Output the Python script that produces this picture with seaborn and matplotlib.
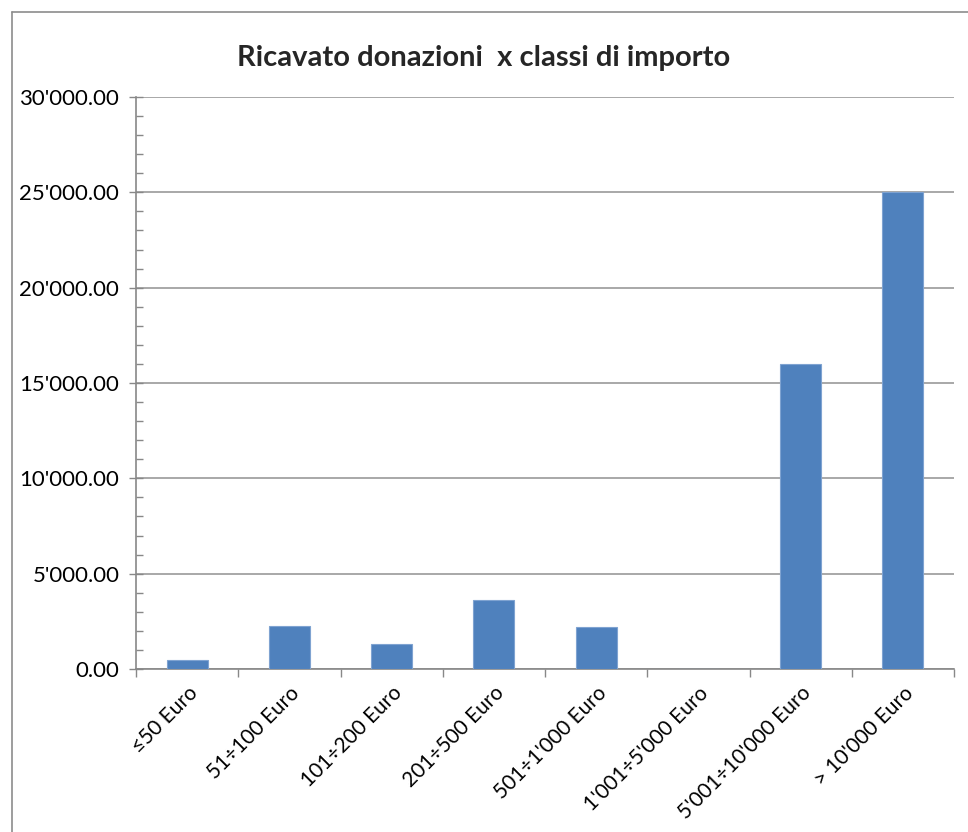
import matplotlib
matplotlib.use("Agg")
import matplotlib.pyplot as plt
import seaborn as sns
import pandas as pd
from matplotlib.ticker import FuncFormatter, MultipleLocator
from matplotlib.lines import Line2D

categories = ["≤50 Euro", "51÷100 Euro", "101÷200 Euro", "201÷500 Euro",
              "501÷1'000 Euro", "1'001÷5'000 Euro", "5'001÷10'000 Euro", "> 10'000 Euro"]
values = [460, 2240, 1330, 3600, 2180, 0, 16000, 25000]
title = "Ricavato donazioni  x classi di importo"

sns.set_theme(style="white")
plt.rcParams['font.family'] = ['Lato', 'DejaVu Sans']

df = pd.DataFrame({"cat": categories, "val": values})

fig = plt.figure(figsize=(9.68, 8.32), dpi=100)
ax = fig.add_axes([136/968, 1-669/832, (954-136)/968, (669-97)/832])

sns.barplot(data=df, x="cat", y="val", ax=ax, color="#4F81BD", width=0.4,
            saturation=1, edgecolor="#7fa3d1", linewidth=0.8, zorder=3)

ax.set_xlim(-0.5, len(categories) - 0.5)
ax.set_ylim(0, 30000)
ax.yaxis.set_major_locator(MultipleLocator(5000))
ax.yaxis.set_minor_locator(MultipleLocator(1000))
ax.yaxis.set_major_formatter(FuncFormatter(lambda v, p: f"{v:,.2f}".replace(",", "'")))
ax.grid(axis="y", which="major", color="#999999", linewidth=1.2, zorder=0)
ax.set_xlabel("")
ax.set_ylabel("")

for s in ["top", "right"]:
    ax.spines[s].set_visible(False)
for s in ["left", "bottom"]:
    ax.spines[s].set_color("#888888")
    ax.spines[s].set_linewidth(1.2)

ax.tick_params(axis="y", which="major", length=10, width=1, color="#888888",
               direction="inout", labelsize=16, pad=7, left=True, labelcolor="black")
ax.tick_params(axis="y", which="minor", length=5, width=1, color="#888888",
               direction="in", left=True)

ax.set_xticks(range(len(categories)))
ax.set_xticklabels(categories, rotation=45, ha="right", rotation_mode="anchor",
                   fontsize=15)
ax.set_xticks([i - 0.5 for i in range(len(categories) + 1)], minor=True)
ax.tick_params(axis="x", which="major", length=0, pad=10, labelcolor="black")
ax.tick_params(axis="x", which="minor", length=6, width=1, color="#888888",
               direction="out", bottom=True)

fig.text(0.5, 1 - 58/832, title, ha="center", va="center",
         fontsize=21, fontweight="bold")

# chart area border
fig.add_artist(Line2D([12/968, 1], [1-12/832, 1-12/832], color="#8c8c8c",
                      linewidth=1.2, transform=fig.transFigure))
fig.add_artist(Line2D([12/968, 12/968], [0, 1-12/832], color="#8c8c8c",
                      linewidth=1.2, transform=fig.transFigure))

fig.savefig("out.png", dpi=100, facecolor="white")
